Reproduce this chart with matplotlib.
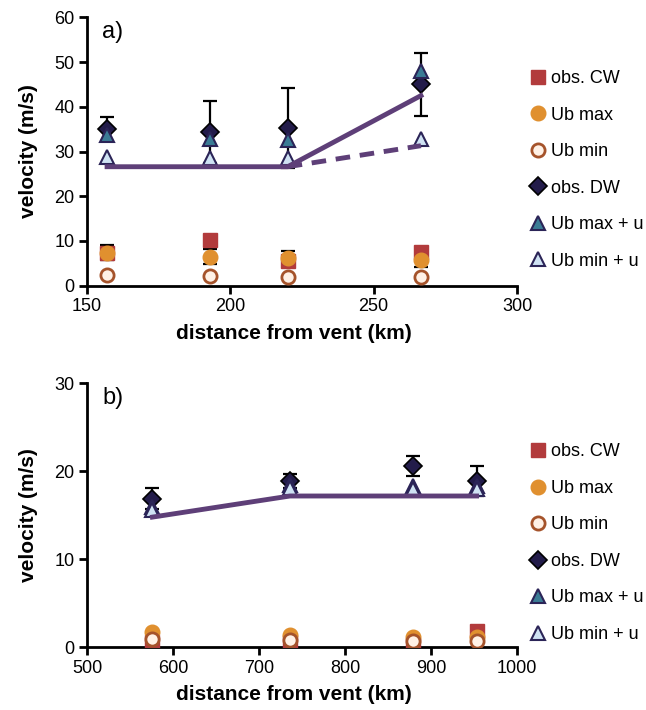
import numpy as np
import matplotlib.pyplot as plt

plt.rcParams['font.family'] = ['Liberation Sans', 'DejaVu Sans']
plt.rcParams['font.size'] = 13

# panel a) data
dist_a = [157, 193, 220, 266.5]
cw_a = [7.2, 10.2, 5.5, 7.5]
ubmax_a = [7.4, 6.5, 6.3, 5.7]
ubmax_err_a = [1.7, 1.6, 1.5, 1.5]
ubmin_a = [2.4, 2.2, 2.0, 1.9]
dw_a = [35.0, 34.4, 35.3, 45.0]
dw_err_a = [2.7, 6.9, 8.9, 7.0]
ubmax_u_a = [33.7, 32.9, 32.6, 48.0]
ubmin_u_a = [28.8, 28.6, 28.5, 32.9]
model_x_a = [157, 220, 266.5]
model_hi_a = [26.6, 26.6, 42.5]
model_lo_x_a = [220, 266.5]
model_lo_a = [26.6, 31.3]

# panel b) data
dist_b = [576, 736, 879, 953]
cw_b = [0.6, 0.6, 0.3, 1.8]
ubmax_b = [1.7, 1.4, 1.2, 1.2]
ubmin_b = [1.0, 0.8, 0.75, 0.75]
dw_b = [16.9, 18.9, 20.6, 18.9]
dw_err_b = [1.2, 0.8, 1.1, 1.7]
ubmax_u_b = [16.0, 18.4, 18.3, 18.3]
ubmin_u_b = [15.6, 18.1, 18.0, 18.0]
model_x_b = [576, 736, 953]
model_b = [14.8, 17.2, 17.2]

labels = ['obs. CW', 'Ub max', 'Ub min', 'obs. DW', 'Ub max + u', 'Ub min + u']
line_col = '#5e3f78'


def draw_panel(ax, x, cw, ubmax, ubmin, dw, dw_err, ubmax_u, ubmin_u, ubmax_err=None):
    ax.errorbar(x, dw, yerr=dw_err, fmt='none', ecolor='black', elinewidth=1.6,
                capsize=5, capthick=1.6, zorder=2)
    if ubmax_err is not None:
        ax.errorbar(x, ubmax, yerr=ubmax_err, fmt='none', ecolor='black', elinewidth=1.6,
                    capsize=5, capthick=1.6, zorder=2)
    ax.plot(x, cw, 's', ms=10, mfc='#b23b3c', mec='#b23b3c', ls='none', label=labels[0], zorder=3)
    ax.plot(x, ubmax, 'o', ms=10.5, mfc='#e0902f', mec='#e0902f', ls='none', label=labels[1], zorder=3)
    ax.plot(x, ubmin, 'o', ms=9.5, mfc='#fff1e6', mec='#a5532b', mew=2, ls='none', label=labels[2], zorder=3)
    ax.plot(x, dw, 'D', ms=9, mfc='#231c4a', mec='black', mew=1.2, ls='none', label=labels[3], zorder=3)
    ax.plot(x, ubmax_u, '^', ms=10, mfc='#3b7c95', mec='#2b2457', mew=1.5, ls='none', label=labels[4], zorder=3)
    ax.plot(x, ubmin_u, '^', ms=10, mfc='#cfe2f3', mec='#2b2457', mew=1.5, ls='none', label=labels[5], zorder=3)


def style_axes(ax, xlim, ylim, xticks, yticks, tag, leg_y):
    ax.set_xlim(*xlim)
    ax.set_ylim(*ylim)
    ax.set_xticks(xticks)
    ax.set_yticks(yticks)
    for side in ['top', 'right']:
        ax.spines[side].set_visible(False)
    for side in ['left', 'bottom']:
        ax.spines[side].set_linewidth(2)
    ax.tick_params(direction='out', length=6, width=2, labelsize=13, pad=3)
    ax.set_xlabel('distance from vent (km)', fontweight='bold', fontsize=15, labelpad=6)
    ax.xaxis.label.set_x(0.48)
    ax.set_ylabel('velocity (m/s)', fontweight='bold', fontsize=15, labelpad=12)
    ax.text(0.035, 0.985, tag, transform=ax.transAxes, fontsize=17, va='top', ha='left')
    ax.legend(loc='upper left', bbox_to_anchor=(1.01, leg_y), frameon=False,
              handletextpad=0.25, handlelength=1.0, labelspacing=1.08, fontsize=13,
              borderaxespad=0)


fig = plt.figure(figsize=(6.46, 7.1), dpi=100)
ax1 = fig.add_axes([0.1347, 0.5976, 0.6656, 0.378])
ax2 = fig.add_axes([0.1347, 0.0883, 0.6656, 0.3717])

draw_panel(ax1, dist_a, cw_a, ubmax_a, ubmin_a, dw_a, dw_err_a, ubmax_u_a, ubmin_u_a, ubmax_err_a)
ax1.plot(model_x_a, model_hi_a, color=line_col, lw=3.5, zorder=4)
ax1.plot(model_lo_x_a, model_lo_a, color=line_col, lw=3.5, ls=(0, (3, 2)), zorder=4)
style_axes(ax1, (150, 300), (0, 60), [150, 200, 250, 300], range(0, 61, 10), 'a)', 0.83)

draw_panel(ax2, dist_b, cw_b, ubmax_b, ubmin_b, dw_b, dw_err_b, ubmax_u_b, ubmin_u_b)
ax2.plot(model_x_b, model_b, color=line_col, lw=3.5, zorder=4)
style_axes(ax2, (500, 1000), (0, 30), range(500, 1001, 100), [0, 10, 20, 30], 'b)', 0.80)

fig.savefig('out.png', dpi=100)
